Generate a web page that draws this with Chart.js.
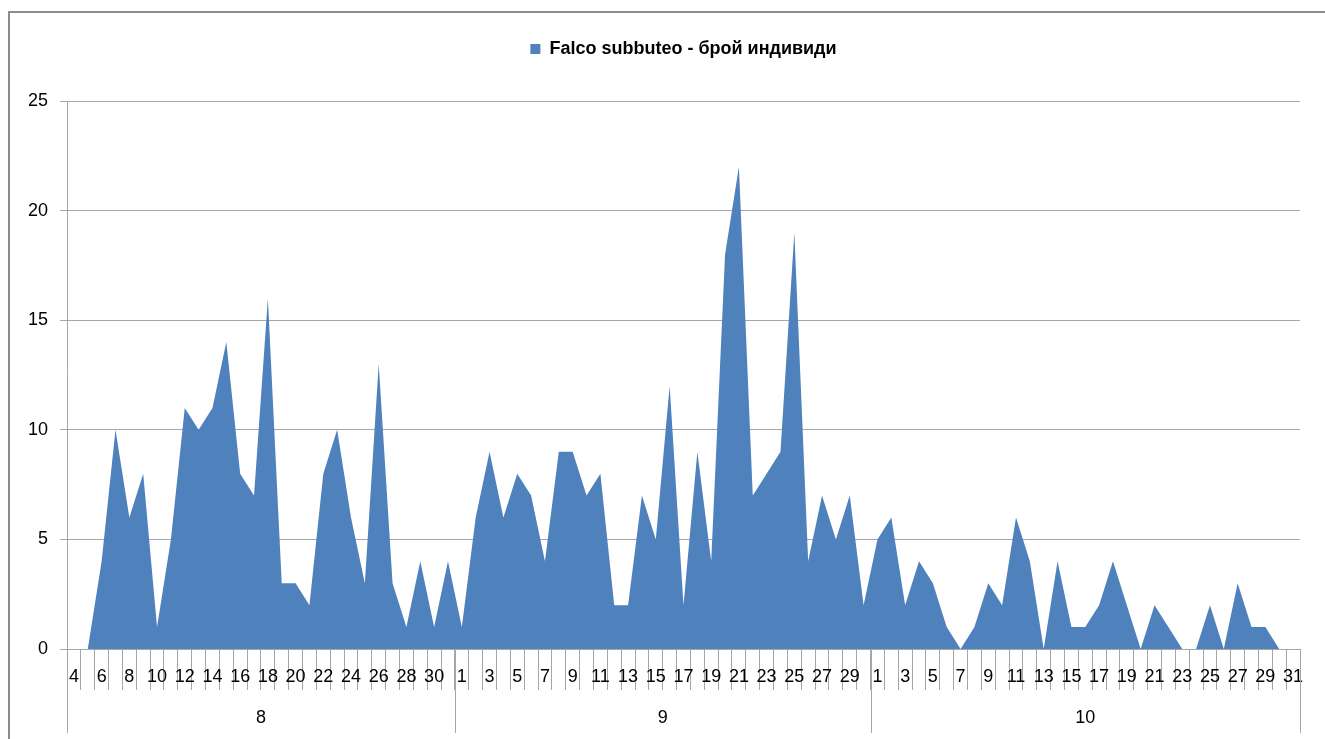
<!DOCTYPE html>
<html>
<head>
<meta charset="utf-8">
<script src="https://cdn.jsdelivr.net/npm/chart.js@4.4.1/dist/chart.umd.min.js"></script>
<style>
    html, body { margin: 0; padding: 0; background: #fff; overflow: hidden; }
    #frame {
        position: absolute; left: 8px; top: 11px; width: 1400px; height: 800px;
        border-left: 2px solid #8c8c8c; border-top: 2px solid #8c8c8c;
        pointer-events: none;
    }
    #wrap { position: absolute; left: 0; top: 0; width: 1325px; height: 739px; }
</style>
</head>
<body>
<div id="wrap"><canvas id="chart" width="1325" height="739"></canvas></div>
<div id="frame"></div>
<script>
// Falco subbuteo counts per day, August - October
const months = ['8', '9', '10'];
const augDays = [4, 5, 6, 7, 8, 9, 10, 11, 12, 13, 14, 15, 16, 17, 18, 19, 20, 21, 22, 23, 24, 25, 26, 27, 28, 29, 30, 31];
const sepDays = [1, 2, 3, 4, 5, 6, 7, 8, 9, 10, 11, 12, 13, 14, 15, 16, 17, 18, 19, 20, 21, 22, 23, 24, 25, 26, 27, 28, 29, 30];
const octDays = [1, 2, 3, 4, 5, 6, 7, 8, 9, 10, 11, 12, 13, 14, 15, 16, 17, 18, 19, 20, 21, 22, 23, 24, 25, 26, 27, 28, 29, 30, 31];

const augValues = [0, 0, 4, 10, 6, 8, 1, 5, 11, 10, 11, 14, 8, 7, 16, 3, 3, 2, 8, 10, 6, 3, 13, 3, 1, 4, 1, 4];
const sepValues = [1, 6, 9, 6, 8, 7, 4, 9, 9, 7, 8, 2, 2, 7, 5, 12, 2, 9, 4, 18, 22, 7, 8, 9, 19, 4, 7, 5, 7, 2];
const octValues = [5, 6, 2, 4, 3, 1, 0, 1, 3, 2, 6, 4, 0, 4, 1, 1, 2, 4, 2, 0, 2, 1, 0, 0, 2, 0, 3, 1, 1, 0, 0];

const yTicks = [0, 5, 10, 15, 20, 25];

const seriesName = 'Falco subbuteo - брой индивиди';
const groupDays = [augDays, sepDays, octDays];

const labels = [].concat(augDays, sepDays, octDays).map(String);
const values = [].concat(augValues, sepValues, octValues);

const GRID = '#a6a6a6';
const FONT = "'Liberation Sans', Arial, sans-serif";

// second row of the category axis: month groups
const monthRowPlugin = {
    id: 'monthRow',
    afterDraw(chart) {
        const x = chart.scales.x;
        const area = chart.chartArea;
        const ctx = chart.ctx;
        const bottom = area.bottom + 84;
        ctx.save();
        ctx.strokeStyle = GRID;
        ctx.lineWidth = 1;
        ctx.fillStyle = '#000';
        ctx.font = '18px ' + FONT;
        ctx.textAlign = 'center';
        ctx.textBaseline = 'middle';

        let start = 0;
        const edges = [];
        groupDays.forEach((days, g) => {
            const end = start + days.length - 1;
            const half = (x.getPixelForValue(1) - x.getPixelForValue(0)) / 2;
            const left = x.getPixelForValue(start) - half;
            const right = x.getPixelForValue(end) + half;
            edges.push(left, right);
            ctx.fillText(months[g], (left + right) / 2, area.bottom + 69);
            start = end + 1;
        });
        [...new Set(edges.map(e => Math.round(e)))].forEach(e => {
            ctx.beginPath();
            ctx.moveTo(e + 0.5, area.bottom);
            ctx.lineTo(e + 0.5, bottom);
            ctx.stroke();
        });
        ctx.restore();
    }
};

new Chart(document.getElementById('chart'), {
    type: 'line',
    data: {
        labels: labels,
        datasets: [{
            label: seriesName,
            data: values,
            fill: 'origin',
            backgroundColor: '#4f81bd',
            borderColor: '#4f81bd',
            borderWidth: 0,
            pointRadius: 0,
            tension: 0
        }]
    },
    options: {
        responsive: false,
        animation: false,
        layout: { padding: { top: 14, right: 25, left: 0, bottom: 0 } },
        plugins: {
            legend: {
                position: 'top',
                fullSize: false,
                labels: {
                    color: '#000',
                    boxWidth: 10,
                    boxHeight: 10,
                    padding: 26,
                    font: { family: FONT, size: 18, weight: 'bold' },
                    generateLabels: (chart) => [{
                        text: seriesName,
                        fillStyle: '#4f81bd',
                        strokeStyle: '#4f81bd',
                        lineWidth: 0,
                        datasetIndex: 0
                    }]
                }
            },
            // empty title used as spacer between legend and plot
            title: {
                display: true,
                text: '',
                weight: 500,
                font: { size: 1, lineHeight: 1 },
                padding: { top: 0, bottom: 32 }
            },
            tooltip: { enabled: false }
        },
        scales: {
            x: {
                type: 'category',
                offset: true,
                grid: {
                    offset: true,
                    drawOnChartArea: false,
                    drawTicks: true,
                    tickLength: 41,
                    color: GRID
                },
                border: { display: true, color: GRID },
                ticks: {
                    autoSkip: false,
                    maxRotation: 0,
                    minRotation: 0,
                    padding: -24,
                    color: '#000',
                    font: { family: FONT, size: 18 },
                    callback: function (value, index) {
                        return index % 2 === 0 ? labels[index] : '';
                    }
                },
                afterFit: (scale) => { scale.height = 90; }
            },
            y: {
                min: 0,
                max: 25,
                afterBuildTicks: (scale) => { scale.ticks = yTicks.map(v => ({ value: v })); },
                grid: { color: GRID, tickLength: 7 },
                border: { display: true, color: GRID },
                ticks: {
                    padding: 12,
                    color: '#000',
                    font: { family: FONT, size: 18 }
                },
                afterFit: (scale) => { scale.width = 67; }
            }
        }
    },
    plugins: [monthRowPlugin]
});
</script>
</body>
</html>
